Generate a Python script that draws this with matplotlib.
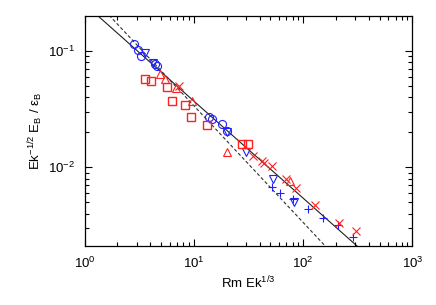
import numpy as np
import matplotlib
matplotlib.use("Agg")
import matplotlib.pyplot as plt

plt.rcParams['font.family'] = ['Liberation Sans', 'DejaVu Sans']
plt.rcParams['mathtext.default'] = 'regular'
plt.rcParams['font.size'] = 9.5

# Blue series
blue_circ_x = [2.83, 3.07, 3.27, 4.40, 4.59, 13.7, 14.6, 18.0, 20.0]
blue_circ_y = [0.1135, 0.1004, 0.0901, 0.0770, 0.0740, 0.0270, 0.0260, 0.0236, 0.0205]
blue_tri_x = [3.56, 4.22, 20.0, 29.7, 53.3, 82.2]
blue_tri_y = [0.0955, 0.0785, 0.0201, 0.0134, 0.00796, 0.00500]
blue_plus_x = [51.7, 61.8, 80.5, 110, 151, 209, 285]
blue_plus_y = [0.00673, 0.00600, 0.00536, 0.00440, 0.00366, 0.00321, 0.00252]

# Red series
red_x_x = [7.36, 34.9, 41.6, 43.7, 51.4, 69.5, 85.8, 129, 213, 303]
red_x_y = [0.0493, 0.01254, 0.0114, 0.01096, 0.01027, 0.00791, 0.00662, 0.00477, 0.00332, 0.00285]
red_tri_x = [4.94, 5.43, 6.87, 9.53, 20.0, 75.5]
red_tri_y = [0.0625, 0.0572, 0.0479, 0.0367, 0.01346, 0.00757]
red_sq_x = [3.56, 4.02, 5.70, 6.25, 8.27, 9.39, 13.1, 27.3, 31.4]
red_sq_y = [0.0572, 0.0550, 0.0486, 0.0373, 0.0343, 0.0269, 0.0231, 0.01579, 0.01579]

# Fit lines: y = C * x^p
solid_C, solid_p = 0.251, -0.832
dash_C, dash_p = 0.337, -1.0

BLUE = '#2020ff'
RED = '#ff2020'

fig = plt.figure(figsize=(4.36, 3.05), dpi=100)
ax = fig.add_axes([0.194, 0.1944, 0.752, 0.7531])

xl = np.logspace(0, 3, 200)
ax.plot(xl, solid_C * xl ** solid_p, color='#202020', lw=0.8, zorder=1)
ax.plot(xl, dash_C * xl ** dash_p, color='#303030', lw=0.8, ls=(0, (3, 2)), zorder=1)

mew = 0.8
ax.plot(blue_circ_x, blue_circ_y, 'o', mfc='none', mec=BLUE, ms=5.8, mew=mew)
ax.plot(blue_tri_x, blue_tri_y, 'v', mfc='none', mec=BLUE, ms=5.8, mew=mew)
ax.plot(blue_plus_x, blue_plus_y, '+', color=BLUE, ms=5.8, mew=mew)
ax.plot(red_x_x, red_x_y, 'x', color=RED, ms=5.5, mew=mew)
ax.plot(red_tri_x, red_tri_y, '^', mfc='none', mec=RED, ms=5.8, mew=mew)
ax.plot(red_sq_x, red_sq_y, 's', mfc='none', mec=RED, ms=5.5, mew=1.0)

ax.set_xscale('log')
ax.set_yscale('log')
ax.set_xlim(1, 1000)
ax.set_ylim(0.00213, 0.198)

ax.tick_params(which='both', direction='in', top=True, right=True, width=0.8)
ax.tick_params(which='major', length=5, pad=7)
ax.tick_params(which='minor', length=3)
for s in ax.spines.values():
    s.set_linewidth(0.9)

ax.set_xlabel(r'Rm Ek$^{1/3}$', labelpad=3)
ax.set_ylabel(r'Ek$^{-1/2}$ E$_B$ / $\varepsilon_B$', labelpad=2)

fig.savefig('out.png', dpi=100)
